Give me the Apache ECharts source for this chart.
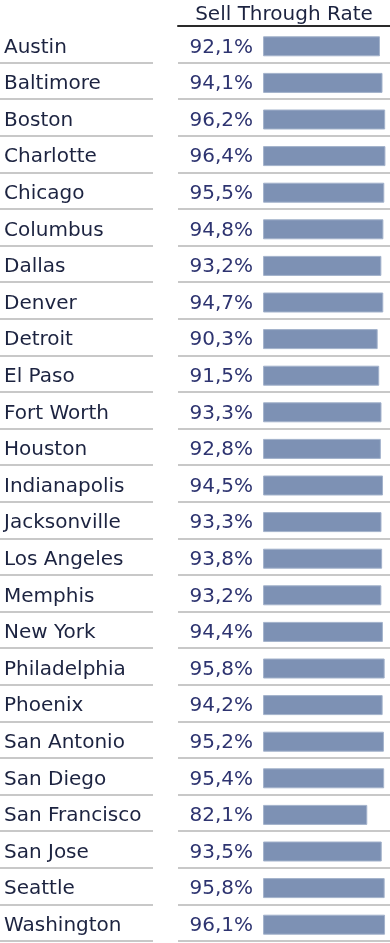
<!DOCTYPE html>
<html>
<head>
<meta charset="utf-8">
<script src="https://cdn.jsdelivr.net/npm/echarts@6/dist/echarts.min.js"></script>
<style>
html,body{margin:0;padding:0;background:#fff;}
#chart{width:390px;height:943px;}
</style>
</head>
<body>
<div id="chart"></div>
<script>
const cities = ["Austin","Baltimore","Boston","Charlotte","Chicago","Columbus","Dallas","Denver","Detroit","El Paso","Fort Worth","Houston","Indianapolis","Jacksonville","Los Angeles","Memphis","New York","Philadelphia","Phoenix","San Antonio","San Diego","San Francisco","San Jose","Seattle","Washington"];
const sellThroughRate = [92.1,94.1,96.2,96.4,95.5,94.8,93.2,94.7,90.3,91.5,93.3,92.8,94.5,93.3,93.8,93.2,94.4,95.8,94.2,95.2,95.4,82.1,93.5,95.8,96.1];
const headerTitle = "Sell Through Rate";

const FONT = "DejaVu Sans";
const sepLine = {show:true, interval: function(i){ return i > 0; }, lineStyle:{color:'#c8c8c8', width:2}};
const cityRich = {t:{fontFamily:FONT, fontSize:20, padding:[6,0,0,0]}};
const valRich = {t:{fontFamily:FONT, fontSize:20, padding:[2,0,0,0]}};

const chart = echarts.init(document.getElementById('chart'), null, {renderer:'canvas'});
chart.setOption({
  animation:false,
  backgroundColor:'#ffffff',
  grid:[
    {left:0, width:153, top:26, bottom:2, containLabel:false, outerBoundsMode:'none'},
    {left:178, right:0, top:26, bottom:2, containLabel:false, outerBoundsMode:'none'},
    {left:178, right:0, top:28, bottom:0, containLabel:false, outerBoundsMode:'none'}
  ],
  xAxis:[
    {gridIndex:0, type:'value', show:false, min:0, max:1},
    {gridIndex:1, type:'value', min:0, max:1, position:'top',
     axisLine:{show:true, onZero:false, lineStyle:{color:'#2a2a2a', width:2}},
     axisTick:{show:false}, axisLabel:{show:false}, splitLine:{show:false},
     name:headerTitle, nameLocation:'middle', nameGap:1,
     nameTextStyle:{fontFamily:FONT, fontSize:20, color:'#1c2340'}},
    {gridIndex:2, type:'value', show:false, min:-67, max:100}
  ],
  yAxis:[
    {gridIndex:0, type:'category', inverse:true, data:cities,
     axisLine:{show:false}, axisTick:{show:false},
     axisLabel:{inside:true, margin:4, align:'left', fontFamily:FONT, fontSize:20, color:'#1c2340',
       formatter: v => '{t|' + v + '}', rich:cityRich},
     splitLine:sepLine},
    {gridIndex:1, type:'category', inverse:true, data:cities,
     axisLine:{show:false}, axisTick:{show:false}, axisLabel:{show:false},
     splitLine:sepLine},
    {gridIndex:2, type:'category', inverse:true, data:cities, show:false}
  ],
  series:[{
    type:'bar', xAxisIndex:2, yAxisIndex:2, data:sellThroughRate,
    barWidth:20,
    itemStyle:{color:'#7d91b4', borderColor:'#a3b2cb', borderWidth:1},
    label:{show:true, position:'left', distance:10, fontFamily:FONT, fontSize:20, color:'#2e3470', rich:valRich,
      formatter: p => '{t|' + p.value.toFixed(1).replace('.', ',') + '%}'}
  }]
});
</script>
</body>
</html>
